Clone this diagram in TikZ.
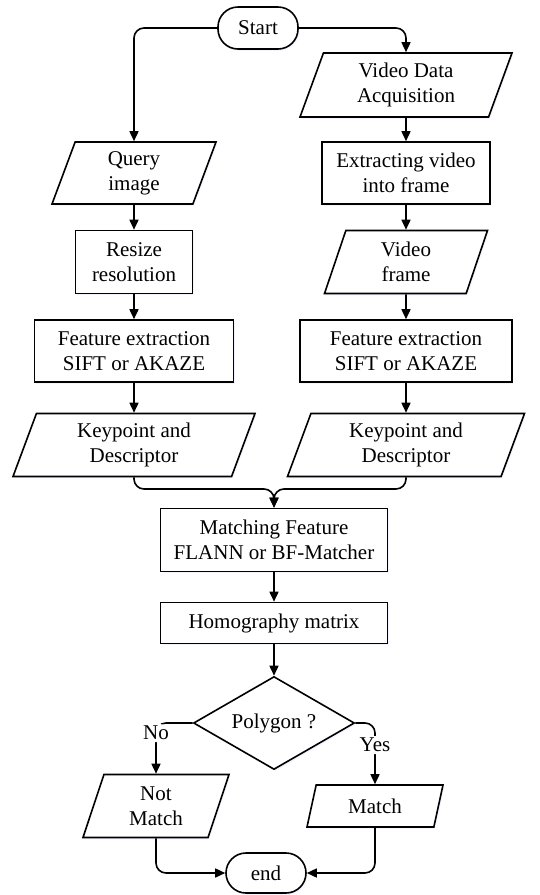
\documentclass[tikz,border=0pt]{standalone}
\usepackage{fontspec}
\setmainfont{Liberation Serif}
\usepackage{tikz}
\usetikzlibrary{arrows.meta, shapes.geometric, shadows, positioning}
\tikzset{>={Triangle[length=5pt,width=4.5pt]}}
\tikzset{
  box/.style={draw, thick, fill=white, align=center, inner sep=1pt,
    drop shadow={shadow xshift=0.7pt, shadow yshift=-0.9pt, opacity=0.3, fill=blue!15}},
  proc/.style={box, rectangle},
  io/.style={box, trapezium, trapezium left angle=64, trapezium right angle=116, trapezium stretches body},
  term/.style={box, rectangle, rounded corners=10pt},
  decide/.style={box, diamond, aspect=1.7},
  line/.style={thick, rounded corners=5pt},
  lbl/.style={fill=white, inner sep=1pt}
}

\begin{document}
\begin{tikzpicture}[x=0.5pt, y=-0.5pt, font=\fontsize{10.5}{12.5}\selectfont]
\useasboundingbox (0,0) rectangle (540,895);
\node[term, minimum width=40pt, minimum height=21pt] (start) at (258,28) {Start};
\node[io, minimum width=106pt, minimum height=32pt] (vda) at (406,85) {Video Data\\Acquisition};
\node[io, minimum width=82pt, minimum height=31pt] (query) at (134,173) {Query\\image};
\node[proc, minimum width=84pt, minimum height=31pt] (extract) at (406,173) {Extracting video\\into frame};
\node[proc, minimum width=58.5pt, minimum height=31.5pt] (resize) at (134,262) {Resize\\resolution};
\node[io, minimum width=81.5pt, minimum height=31.5pt] (vframe) at (406,262) {Video\\frame};
\node[proc, minimum width=99.5pt, minimum height=31pt] (featl) at (134,351) {Feature extraction\\SIFT or AKAZE};
\node[proc, minimum width=106pt, minimum height=31pt] (featr) at (406,351) {Feature extraction\\SIFT or AKAZE};
\node[io, minimum width=121pt, minimum height=31.5pt] (kpl) at (134,445) {Keypoint and\\Descriptor};
\node[io, minimum width=118.5pt, minimum height=31.5pt] (kpr) at (406,445) {Keypoint and\\Descriptor};
\node[proc, minimum width=113.5pt, minimum height=31.5pt] (matching) at (274,540) {Matching Feature\\FLANN or BF-Matcher};
\node[proc, minimum width=113.5pt, minimum height=20.5pt] (homog) at (274,623) {Homography matrix};
\node[decide, minimum width=80.5pt, minimum height=46.5pt] (poly) at (274,723) {Polygon ?};
\node[io, minimum width=73pt, minimum height=31.5pt] (nomatch) at (156,806) {Not\\Match};
\node[io, minimum width=68pt, minimum height=21pt] (match) at (375,806) {Match};
\node[term, minimum width=40pt, minimum height=20pt] (finish) at (266,873) {end};
\coordinate (join) at (274,489);

\draw[->, line] (start.west) -| (query.north);
\draw[->, line] (start.east) -| (vda.north);
\draw[->, thick] (vda.south) -- (extract.north);
\draw[->, thick] (extract.south) -- (vframe.north);
\draw[->, thick] (vframe.south) -- (featr.north);
\draw[->, thick] (featr.south) -- (kpr.north);
\draw[->, thick] (query.south) -- (resize.north);
\draw[->, thick] (resize.south) -- (featl.north);
\draw[->, thick] (featl.south) -- (kpl.north);
\draw[->, line] (kpl.south) |- (join) -- (matching.north);
\draw[->, line] (kpr.south) |- (join) -- (matching.north);
\draw[->, thick] (matching.south) -- (homog.north);
\draw[->, thick] (homog.south) -- (poly.north);
\draw[->, line] (poly.west) -| node[lbl, pos=0.6]{No} (nomatch.north);
\draw[->, line] (poly.east) -| node[lbl, pos=0.68]{Yes} (match.north);
\draw[->, line] (nomatch.south) |- (finish.west);
\draw[->, line] (match.south) |- (finish.east);
\end{tikzpicture}
\end{document}
